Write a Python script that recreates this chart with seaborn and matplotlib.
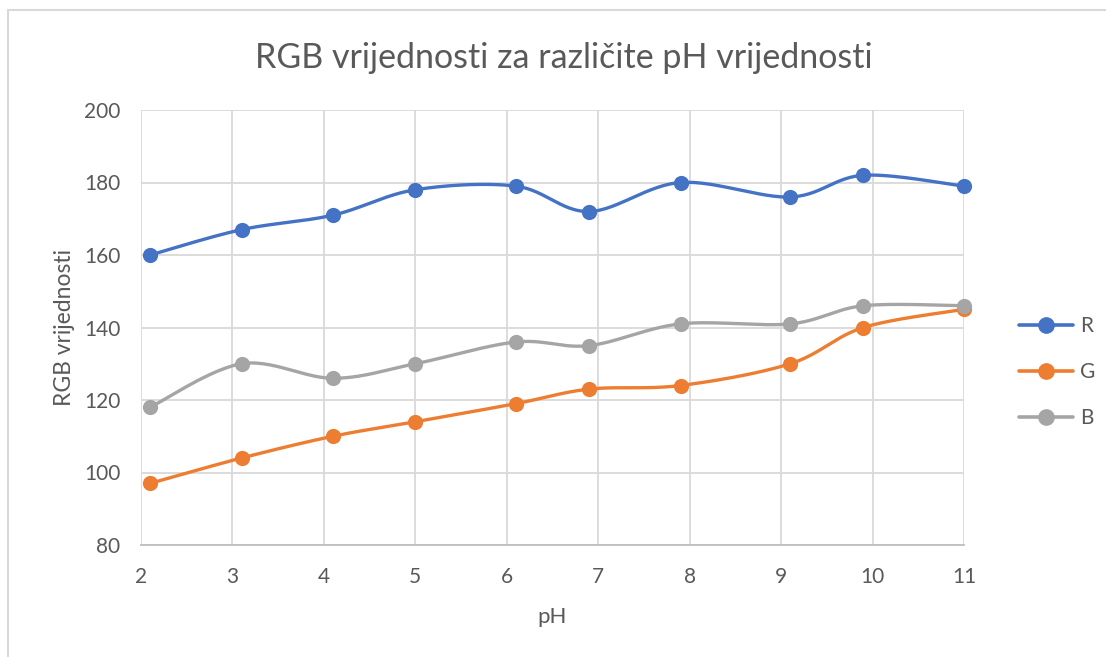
import numpy as np
import pandas as pd
import matplotlib
matplotlib.use("Agg")
import matplotlib.pyplot as plt
from matplotlib.lines import Line2D
from matplotlib.patches import Rectangle
import seaborn as sns

ph = [2.1, 3.1, 4.1, 5.0, 6.1, 6.9, 7.9, 9.1, 9.9, 11.0]
r_vals = [160, 167, 171, 178, 179, 172, 180, 176, 182, 179]
g_vals = [97, 104, 110, 114, 119, 123, 124, 130, 140, 145]
b_vals = [118, 130, 126, 130, 136, 135, 141, 141, 146, 146]
series_names = ["R", "G", "B"]
colors = ["#4472C4", "#ED7D31", "#A5A5A5"]
x_ticks = [2, 3, 4, 5, 6, 7, 8, 9, 10, 11]
y_ticks = [80, 100, 120, 140, 160, 180, 200]

sns.set_theme(style="white")
plt.rcParams["font.family"] = ["Lato", "DejaVu Sans"]

def smooth(x, y, n=30):
    # Bezier smoothing similar to Excel's smoothed line
    x = np.asarray(x, float); y = np.asarray(y, float)
    xs, ys = [], []
    m = len(x)
    for i in range(m - 1):
        p0 = np.array([x[max(i - 1, 0)], y[max(i - 1, 0)]])
        p1 = np.array([x[i], y[i]])
        p2 = np.array([x[i + 1], y[i + 1]])
        p3 = np.array([x[min(i + 2, m - 1)], y[min(i + 2, m - 1)]])
        c1 = p1 + (p2 - p0) / 6.0
        c2 = p2 - (p3 - p1) / 6.0
        t = np.linspace(0, 1, n, endpoint=(i == m - 2))[:, None]
        pts = ((1 - t) ** 3) * p1 + 3 * ((1 - t) ** 2) * t * c1 + 3 * (1 - t) * t ** 2 * c2 + t ** 3 * p2
        xs.append(pts[:, 0]); ys.append(pts[:, 1])
    return np.concatenate(xs), np.concatenate(ys)

fig = plt.figure(figsize=(11.06, 6.57), dpi=100)
ax = fig.add_axes([141 / 1106, 1 - 545 / 657, (964 - 141) / 1106, (545 - 110) / 657])

for name, vals, col in zip(series_names, [r_vals, g_vals, b_vals], colors):
    sx, sy = smooth(ph, vals)
    df_line = pd.DataFrame({"x": sx, "y": sy})
    sns.lineplot(data=df_line, x="x", y="y", ax=ax, color=col, linewidth=2.4,
                 sort=False, estimator=None, zorder=3)
    df_pts = pd.DataFrame({"x": ph, "y": vals})
    sns.scatterplot(data=df_pts, x="x", y="y", ax=ax, color=col, s=120,
                    edgecolor=col, linewidth=0, zorder=4, clip_on=False)

ax.set_xlim(2, 11)
ax.set_ylim(80, 200)
ax.set_xticks(x_ticks)
ax.set_yticks(y_ticks)
ax.set_xticklabels([str(v) for v in x_ticks])
ax.set_yticklabels([str(v) for v in y_ticks])
ax.grid(True, color="#D9D9D9", linewidth=1.3)
ax.set_axisbelow(True)
for s in ["top", "right", "left"]:
    ax.spines[s].set_visible(False)
ax.spines["bottom"].set_color("#BFBFBF")
ax.spines["bottom"].set_linewidth(1.3)
ax.tick_params(axis="both", length=0, labelsize=15, colors="#595959")
ax.tick_params(axis="x", pad=16)
ax.tick_params(axis="y", pad=15)
ax.set_xlabel("pH", fontsize=16, color="#595959", labelpad=14)
ax.set_ylabel("RGB vrijednosti", fontsize=16.5, color="#595959", labelpad=6)

fig.suptitle("RGB vrijednosti za različite pH vrijednosti", x=564 / 1106, y=1 - 58 / 657,
             va="center", fontsize=24.5, color="#595959")

handles = [Line2D([0], [0], color=c, linewidth=2.6, marker="o", markersize=11) for c in colors]
leg = fig.legend(handles, series_names, loc="center left", bbox_to_anchor=(1000 / 1106, 1 - 372 / 657),
                 frameon=False, fontsize=15, labelspacing=1.25, handlelength=2.6, handletextpad=0.35)
for t in leg.get_texts():
    t.set_color("#595959")

fig.patches.append(Rectangle((8 / 1106, -0.01), 1.0, 1 - 10 / 657 + 0.01, transform=fig.transFigure,
                             fill=False, edgecolor="#D9D9D9", linewidth=1.5))

fig.savefig("out.png", dpi=100, facecolor="white")
